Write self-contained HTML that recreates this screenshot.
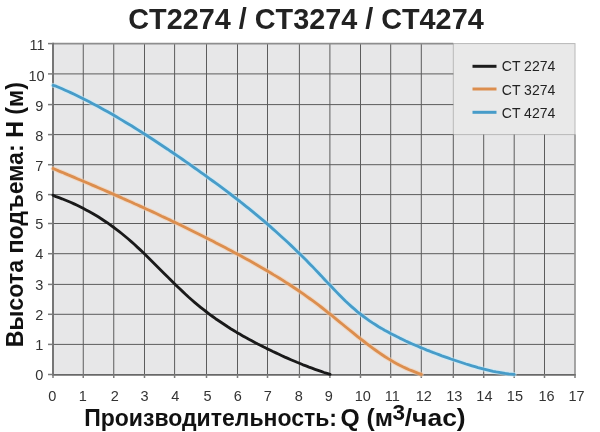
<!DOCTYPE html>
<html><head><meta charset="utf-8"><title>CT2274 / CT3274 / CT4274</title>
<style>
html,body{margin:0;padding:0;background:#fff;width:600px;height:432px;overflow:hidden}
svg{display:block}
text{font-family:"Liberation Sans",Arial,sans-serif}
</style></head><body>
<svg width="600" height="432" viewBox="0 0 600 432">
<rect x="53" y="43.6" width="522.00" height="330.90" fill="#e7e7e8"/>
<rect x="453.3" y="43.6" width="121.70" height="91.00" fill="#e9e9e9" stroke="#b8b8b8" stroke-width="1"/>
<g stroke="#5c5c5c" stroke-width="1" fill="none">
<line x1="83.25" y1="374.50" x2="83.25" y2="43.60"/>
<line x1="113.75" y1="374.50" x2="113.75" y2="43.60"/>
<line x1="144.50" y1="374.50" x2="144.50" y2="43.60"/>
<line x1="174.60" y1="374.50" x2="174.60" y2="43.60"/>
<line x1="206.50" y1="374.50" x2="206.50" y2="43.60"/>
<line x1="237.50" y1="374.50" x2="237.50" y2="43.60"/>
<line x1="267.50" y1="374.50" x2="267.50" y2="43.60"/>
<line x1="299.40" y1="374.50" x2="299.40" y2="43.60"/>
<line x1="329.90" y1="374.50" x2="329.90" y2="43.60"/>
<line x1="360.50" y1="374.50" x2="360.50" y2="43.60"/>
<line x1="390.70" y1="374.50" x2="390.70" y2="43.60"/>
<line x1="421.30" y1="374.50" x2="421.30" y2="43.60"/>
<line x1="453.30" y1="374.50" x2="453.30" y2="134.60"/>
<line x1="483.70" y1="374.50" x2="483.70" y2="134.60"/>
<line x1="514.20" y1="374.50" x2="514.20" y2="134.60"/>
<line x1="544.50" y1="374.50" x2="544.50" y2="134.60"/>
<line x1="53.00" y1="344.40" x2="575.00" y2="344.40"/>
<line x1="53.00" y1="314.30" x2="575.00" y2="314.30"/>
<line x1="53.00" y1="284.40" x2="575.00" y2="284.40"/>
<line x1="53.00" y1="253.70" x2="575.00" y2="253.70"/>
<line x1="53.00" y1="223.50" x2="575.00" y2="223.50"/>
<line x1="53.00" y1="194.60" x2="575.00" y2="194.60"/>
<line x1="53.00" y1="164.70" x2="575.00" y2="164.70"/>
<line x1="53.00" y1="134.60" x2="453.30" y2="134.60"/>
<line x1="53.00" y1="104.60" x2="453.30" y2="104.60"/>
<line x1="53.00" y1="73.90" x2="453.30" y2="73.90"/>
</g>
<g fill="none">
<line x1="53" y1="43.6" x2="453.3" y2="43.6" stroke="#8e8e8e" stroke-width="1.7"/>
<line x1="575" y1="134.6" x2="575" y2="374.5" stroke="#969696" stroke-width="1.7"/>
<line x1="53" y1="42.800000000000004" x2="53" y2="375.5" stroke="#707070" stroke-width="1.9"/>
<line x1="52" y1="374.9" x2="575.8" y2="374.9" stroke="#686868" stroke-width="1.9"/>
</g>
<g stroke="#7c7c7c" stroke-width="1.5" fill="none">
<line x1="53.00" y1="374.50" x2="53.00" y2="378.00"/>
<line x1="83.25" y1="374.50" x2="83.25" y2="378.00"/>
<line x1="113.75" y1="374.50" x2="113.75" y2="378.00"/>
<line x1="144.50" y1="374.50" x2="144.50" y2="378.00"/>
<line x1="174.60" y1="374.50" x2="174.60" y2="378.00"/>
<line x1="206.50" y1="374.50" x2="206.50" y2="378.00"/>
<line x1="237.50" y1="374.50" x2="237.50" y2="378.00"/>
<line x1="267.50" y1="374.50" x2="267.50" y2="378.00"/>
<line x1="299.40" y1="374.50" x2="299.40" y2="378.00"/>
<line x1="329.90" y1="374.50" x2="329.90" y2="378.00"/>
<line x1="360.50" y1="374.50" x2="360.50" y2="378.00"/>
<line x1="390.70" y1="374.50" x2="390.70" y2="378.00"/>
<line x1="421.30" y1="374.50" x2="421.30" y2="378.00"/>
<line x1="453.30" y1="374.50" x2="453.30" y2="378.00"/>
<line x1="483.70" y1="374.50" x2="483.70" y2="378.00"/>
<line x1="514.20" y1="374.50" x2="514.20" y2="378.00"/>
<line x1="544.50" y1="374.50" x2="544.50" y2="378.00"/>
<line x1="575.00" y1="374.50" x2="575.00" y2="378.00"/>
<line x1="48.00" y1="374.50" x2="53.00" y2="374.50"/>
<line x1="48.00" y1="344.40" x2="53.00" y2="344.40"/>
<line x1="48.00" y1="314.30" x2="53.00" y2="314.30"/>
<line x1="48.00" y1="284.40" x2="53.00" y2="284.40"/>
<line x1="48.00" y1="253.70" x2="53.00" y2="253.70"/>
<line x1="48.00" y1="223.50" x2="53.00" y2="223.50"/>
<line x1="48.00" y1="194.60" x2="53.00" y2="194.60"/>
<line x1="48.00" y1="164.70" x2="53.00" y2="164.70"/>
<line x1="48.00" y1="134.60" x2="53.00" y2="134.60"/>
<line x1="48.00" y1="104.60" x2="53.00" y2="104.60"/>
<line x1="48.00" y1="73.90" x2="53.00" y2="73.90"/>
<line x1="48.00" y1="43.60" x2="53.00" y2="43.60"/>
</g>
<g fill="none" stroke-width="5" stroke-linecap="round" stroke-linejoin="round" opacity="0.55">
<path d="M53.1 168.5 L56.1 169.8 L59.1 171.1 L62.2 172.3 L65.2 173.6 L68.2 174.9 L71.2 176.1 L74.2 177.4 L77.2 178.7 L80.3 180.0 L83.3 181.2 L86.3 182.5 L89.3 183.8 L92.3 185.1 L95.4 186.4 L98.4 187.7 L101.4 189.0 L104.4 190.3 L107.4 191.6 L110.4 192.9 L113.5 194.3 L116.5 195.6 L119.5 196.9 L122.5 198.3 L125.5 199.6 L128.6 201.0 L131.6 202.3 L134.6 203.7 L137.6 205.0 L140.6 206.4 L143.6 207.8 L146.7 209.2 L149.7 210.5 L152.7 211.9 L155.7 213.3 L158.7 214.7 L161.7 216.2 L164.8 217.6 L167.8 219.0 L170.8 220.4 L173.8 221.9 L176.8 223.3 L179.9 224.8 L182.9 226.2 L185.9 227.7 L188.9 229.2 L191.9 230.7 L194.9 232.2 L198.0 233.7 L201.0 235.2 L204.0 236.7 L207.0 238.2 L210.0 239.8 L213.1 241.3 L216.1 242.9 L219.1 244.4 L222.1 246.0 L225.1 247.6 L228.1 249.2 L231.2 250.8 L234.2 252.4 L237.2 254.0 L240.2 255.6 L243.2 257.3 L246.3 258.9 L249.3 260.6 L252.3 262.3 L255.3 264.0 L258.3 265.7 L261.3 267.4 L264.4 269.2 L267.4 270.9 L270.4 272.7 L273.4 274.6 L276.4 276.4 L279.5 278.3 L282.5 280.1 L285.5 282.1 L288.5 284.0 L291.5 286.0 L294.5 288.0 L297.6 290.0 L300.6 292.1 L303.6 294.2 L306.6 296.3 L309.6 298.5 L312.7 300.7 L315.7 302.9 L318.7 305.2 L321.7 307.5 L324.7 309.9 L327.7 312.3 L330.8 314.7 L333.8 317.1 L336.8 319.6 L339.8 322.1 L342.8 324.5 L345.8 327.0 L348.9 329.5 L351.9 331.9 L354.9 334.4 L357.9 336.8 L360.9 339.2 L364.0 341.5 L367.0 343.8 L370.0 346.1 L373.0 348.3 L376.0 350.5 L379.0 352.6 L382.1 354.7 L385.1 356.7 L388.1 358.6 L391.1 360.4 L394.1 362.2 L397.2 363.9 L400.2 365.5 L403.2 367.0 L406.2 368.4 L409.2 369.7 L412.2 370.9 L415.3 372.1 L418.3 373.3 L421.3 374.4" stroke="#f6cfae"/>
<path d="M53.1 85.4 L56.1 86.2 L59.1 87.5 L62.1 88.8 L65.2 90.2 L68.2 91.5 L71.2 92.9 L74.2 94.3 L77.2 95.8 L80.2 97.3 L83.2 98.8 L86.3 100.3 L89.3 101.8 L92.3 103.4 L95.3 105.0 L98.3 106.6 L101.3 108.3 L104.3 109.9 L107.3 111.6 L110.4 113.3 L113.4 115.0 L116.4 116.8 L119.4 118.6 L122.4 120.4 L125.4 122.2 L128.4 124.0 L131.5 125.8 L134.5 127.7 L137.5 129.6 L140.5 131.5 L143.5 133.4 L146.5 135.3 L149.5 137.2 L152.6 139.2 L155.6 141.2 L158.6 143.2 L161.6 145.2 L164.6 147.2 L167.6 149.2 L170.6 151.3 L173.6 153.3 L176.7 155.4 L179.7 157.4 L182.7 159.5 L185.7 161.6 L188.7 163.7 L191.7 165.9 L194.7 168.0 L197.8 170.1 L200.8 172.3 L203.8 174.4 L206.8 176.6 L209.8 178.8 L212.8 181.0 L215.8 183.2 L218.9 185.4 L221.9 187.7 L224.9 189.9 L227.9 192.2 L230.9 194.5 L233.9 196.8 L236.9 199.2 L240.0 201.5 L243.0 203.9 L246.0 206.3 L249.0 208.7 L252.0 211.2 L255.0 213.7 L258.0 216.2 L261.0 218.7 L264.1 221.2 L267.1 223.8 L270.1 226.4 L273.1 229.1 L276.1 231.8 L279.1 234.5 L282.1 237.2 L285.2 240.0 L288.2 242.8 L291.2 245.6 L294.2 248.5 L297.2 251.4 L300.2 254.3 L303.2 257.3 L306.3 260.3 L309.3 263.4 L312.3 266.4 L315.3 269.6 L318.3 272.8 L321.3 275.9 L324.3 279.2 L327.3 282.4 L330.4 285.6 L333.4 288.7 L336.4 291.9 L339.4 295.0 L342.4 298.0 L345.4 301.0 L348.4 303.8 L351.5 306.6 L354.5 309.2 L357.5 311.8 L360.5 314.2 L363.5 316.5 L366.5 318.7 L369.5 320.8 L372.6 322.9 L375.6 324.8 L378.6 326.7 L381.6 328.4 L384.6 330.2 L387.6 331.8 L390.6 333.5 L393.7 335.0 L396.7 336.6 L399.7 338.1 L402.7 339.5 L405.7 341.0 L408.7 342.4 L411.7 343.7 L414.7 345.0 L417.8 346.3 L420.8 347.6 L423.8 348.8 L426.8 350.1 L429.8 351.2 L432.8 352.4 L435.8 353.5 L438.9 354.7 L441.9 355.8 L444.9 356.8 L447.9 357.9 L450.9 359.0 L453.9 360.0 L456.9 361.0 L460.0 362.0 L463.0 363.0 L466.0 364.0 L469.0 364.9 L472.0 365.8 L475.0 366.7 L478.0 367.6 L481.0 368.4 L484.1 369.2 L487.1 369.9 L490.1 370.6 L493.1 371.3 L496.1 371.9 L499.1 372.4 L502.1 372.9 L505.2 373.4 L508.2 373.8 L511.2 374.1 L514.2 374.4" stroke="#c4ecfb"/>
</g>
<g fill="none" stroke-width="2.85" stroke-linecap="round" stroke-linejoin="round">
<path d="M53.0 195.2 L56.0 196.7 L59.0 197.7 L62.0 198.8 L65.0 200.0 L68.1 201.3 L71.1 202.5 L74.1 203.9 L77.1 205.3 L80.1 206.8 L83.1 208.3 L86.1 209.9 L89.1 211.5 L92.2 213.2 L95.2 215.0 L98.2 216.8 L101.2 218.7 L104.2 220.7 L107.2 222.7 L110.2 224.8 L113.2 227.0 L116.3 229.3 L119.3 231.6 L122.3 234.0 L125.3 236.5 L128.3 239.0 L131.3 241.6 L134.3 244.3 L137.3 247.1 L140.3 249.9 L143.4 252.8 L146.4 255.7 L149.4 258.7 L152.4 261.7 L155.4 264.7 L158.4 267.7 L161.4 270.7 L164.4 273.7 L167.5 276.7 L170.5 279.7 L173.5 282.7 L176.5 285.7 L179.5 288.6 L182.5 291.4 L185.5 294.2 L188.5 297.0 L191.6 299.7 L194.6 302.3 L197.6 304.8 L200.6 307.3 L203.6 309.7 L206.6 312.0 L209.6 314.3 L212.6 316.5 L215.6 318.7 L218.7 320.8 L221.7 322.8 L224.7 324.8 L227.7 326.8 L230.7 328.7 L233.7 330.5 L236.7 332.4 L239.7 334.1 L242.8 335.9 L245.8 337.6 L248.8 339.2 L251.8 340.8 L254.8 342.4 L257.8 344.0 L260.8 345.5 L263.8 347.1 L266.8 348.6 L269.9 350.0 L272.9 351.5 L275.9 352.9 L278.9 354.3 L281.9 355.7 L284.9 357.1 L287.9 358.4 L290.9 359.7 L294.0 361.0 L297.0 362.3 L300.0 363.5 L303.0 364.8 L306.0 365.9 L309.0 367.1 L312.0 368.2 L315.0 369.3 L318.1 370.4 L321.1 371.4 L324.1 372.5 L327.1 373.4 L330.1 374.3" stroke="#1a1a1a"/>
<path d="M53.1 168.5 L56.1 169.8 L59.1 171.1 L62.2 172.3 L65.2 173.6 L68.2 174.9 L71.2 176.1 L74.2 177.4 L77.2 178.7 L80.3 180.0 L83.3 181.2 L86.3 182.5 L89.3 183.8 L92.3 185.1 L95.4 186.4 L98.4 187.7 L101.4 189.0 L104.4 190.3 L107.4 191.6 L110.4 192.9 L113.5 194.3 L116.5 195.6 L119.5 196.9 L122.5 198.3 L125.5 199.6 L128.6 201.0 L131.6 202.3 L134.6 203.7 L137.6 205.0 L140.6 206.4 L143.6 207.8 L146.7 209.2 L149.7 210.5 L152.7 211.9 L155.7 213.3 L158.7 214.7 L161.7 216.2 L164.8 217.6 L167.8 219.0 L170.8 220.4 L173.8 221.9 L176.8 223.3 L179.9 224.8 L182.9 226.2 L185.9 227.7 L188.9 229.2 L191.9 230.7 L194.9 232.2 L198.0 233.7 L201.0 235.2 L204.0 236.7 L207.0 238.2 L210.0 239.8 L213.1 241.3 L216.1 242.9 L219.1 244.4 L222.1 246.0 L225.1 247.6 L228.1 249.2 L231.2 250.8 L234.2 252.4 L237.2 254.0 L240.2 255.6 L243.2 257.3 L246.3 258.9 L249.3 260.6 L252.3 262.3 L255.3 264.0 L258.3 265.7 L261.3 267.4 L264.4 269.2 L267.4 270.9 L270.4 272.7 L273.4 274.6 L276.4 276.4 L279.5 278.3 L282.5 280.1 L285.5 282.1 L288.5 284.0 L291.5 286.0 L294.5 288.0 L297.6 290.0 L300.6 292.1 L303.6 294.2 L306.6 296.3 L309.6 298.5 L312.7 300.7 L315.7 302.9 L318.7 305.2 L321.7 307.5 L324.7 309.9 L327.7 312.3 L330.8 314.7 L333.8 317.1 L336.8 319.6 L339.8 322.1 L342.8 324.5 L345.8 327.0 L348.9 329.5 L351.9 331.9 L354.9 334.4 L357.9 336.8 L360.9 339.2 L364.0 341.5 L367.0 343.8 L370.0 346.1 L373.0 348.3 L376.0 350.5 L379.0 352.6 L382.1 354.7 L385.1 356.7 L388.1 358.6 L391.1 360.4 L394.1 362.2 L397.2 363.9 L400.2 365.5 L403.2 367.0 L406.2 368.4 L409.2 369.7 L412.2 370.9 L415.3 372.1 L418.3 373.3 L421.3 374.4" stroke="#dc8e4e"/>
<path d="M53.1 85.4 L56.1 86.2 L59.1 87.5 L62.1 88.8 L65.2 90.2 L68.2 91.5 L71.2 92.9 L74.2 94.3 L77.2 95.8 L80.2 97.3 L83.2 98.8 L86.3 100.3 L89.3 101.8 L92.3 103.4 L95.3 105.0 L98.3 106.6 L101.3 108.3 L104.3 109.9 L107.3 111.6 L110.4 113.3 L113.4 115.0 L116.4 116.8 L119.4 118.6 L122.4 120.4 L125.4 122.2 L128.4 124.0 L131.5 125.8 L134.5 127.7 L137.5 129.6 L140.5 131.5 L143.5 133.4 L146.5 135.3 L149.5 137.2 L152.6 139.2 L155.6 141.2 L158.6 143.2 L161.6 145.2 L164.6 147.2 L167.6 149.2 L170.6 151.3 L173.6 153.3 L176.7 155.4 L179.7 157.4 L182.7 159.5 L185.7 161.6 L188.7 163.7 L191.7 165.9 L194.7 168.0 L197.8 170.1 L200.8 172.3 L203.8 174.4 L206.8 176.6 L209.8 178.8 L212.8 181.0 L215.8 183.2 L218.9 185.4 L221.9 187.7 L224.9 189.9 L227.9 192.2 L230.9 194.5 L233.9 196.8 L236.9 199.2 L240.0 201.5 L243.0 203.9 L246.0 206.3 L249.0 208.7 L252.0 211.2 L255.0 213.7 L258.0 216.2 L261.0 218.7 L264.1 221.2 L267.1 223.8 L270.1 226.4 L273.1 229.1 L276.1 231.8 L279.1 234.5 L282.1 237.2 L285.2 240.0 L288.2 242.8 L291.2 245.6 L294.2 248.5 L297.2 251.4 L300.2 254.3 L303.2 257.3 L306.3 260.3 L309.3 263.4 L312.3 266.4 L315.3 269.6 L318.3 272.8 L321.3 275.9 L324.3 279.2 L327.3 282.4 L330.4 285.6 L333.4 288.7 L336.4 291.9 L339.4 295.0 L342.4 298.0 L345.4 301.0 L348.4 303.8 L351.5 306.6 L354.5 309.2 L357.5 311.8 L360.5 314.2 L363.5 316.5 L366.5 318.7 L369.5 320.8 L372.6 322.9 L375.6 324.8 L378.6 326.7 L381.6 328.4 L384.6 330.2 L387.6 331.8 L390.6 333.5 L393.7 335.0 L396.7 336.6 L399.7 338.1 L402.7 339.5 L405.7 341.0 L408.7 342.4 L411.7 343.7 L414.7 345.0 L417.8 346.3 L420.8 347.6 L423.8 348.8 L426.8 350.1 L429.8 351.2 L432.8 352.4 L435.8 353.5 L438.9 354.7 L441.9 355.8 L444.9 356.8 L447.9 357.9 L450.9 359.0 L453.9 360.0 L456.9 361.0 L460.0 362.0 L463.0 363.0 L466.0 364.0 L469.0 364.9 L472.0 365.8 L475.0 366.7 L478.0 367.6 L481.0 368.4 L484.1 369.2 L487.1 369.9 L490.1 370.6 L493.1 371.3 L496.1 371.9 L499.1 372.4 L502.1 372.9 L505.2 373.4 L508.2 373.8 L511.2 374.1 L514.2 374.4" stroke="#479cc9"/>
</g>
<g stroke-width="3">
<line x1="472.5" y1="66.3" x2="496.5" y2="66.3" stroke="#1c1c1c"/>
<line x1="472.5" y1="89" x2="496.5" y2="89" stroke="#dc8e4e"/>
<line x1="472.5" y1="112.3" x2="496.5" y2="112.3" stroke="#479cc9"/>
</g>
<g font-size="14" fill="#222">
<text x="501.8" y="71.4">CT 2274</text>
<text x="501.8" y="94.8">CT 3274</text>
<text x="501.8" y="117.5">CT 4274</text>
</g>
<g font-size="14.5" fill="#333" text-anchor="middle">
<text x="52.20" y="400.5">0</text>
<text x="82.90" y="400.5">1</text>
<text x="114.90" y="400.5">2</text>
<text x="144.60" y="400.5">3</text>
<text x="175.40" y="400.5">4</text>
<text x="207.50" y="400.5">5</text>
<text x="237.90" y="400.5">6</text>
<text x="267.80" y="400.5">7</text>
<text x="298.70" y="400.5">8</text>
<text x="328.90" y="400.5">9</text>
<text x="362.80" y="400.5">10</text>
<text x="392.20" y="400.5">11</text>
<text x="423.80" y="400.5">12</text>
<text x="454.20" y="400.5">13</text>
<text x="484.40" y="400.5">14</text>
<text x="514.90" y="400.5">15</text>
<text x="546.50" y="400.5">16</text>
<text x="576.60" y="400.5">17</text>
</g>
<g font-size="14.5" fill="#333" text-anchor="end">
<text x="43.4" y="379.50">0</text>
<text x="43.4" y="349.56">1</text>
<text x="43.4" y="319.63">2</text>
<text x="43.4" y="289.89">3</text>
<text x="43.4" y="259.35">4</text>
<text x="43.4" y="229.32">5</text>
<text x="43.4" y="200.58">6</text>
<text x="43.4" y="170.85">7</text>
<text x="43.4" y="140.91">8</text>
<text x="43.4" y="111.07">9</text>
<text x="44.6" y="80.54">10</text>
<text x="44.6" y="50.40">11</text>
</g>
<text x="306" y="28.7" font-size="28.8" font-weight="bold" fill="#222" text-anchor="middle">CT2274 / CT3274 / CT4274</text>
<g font-size="23" font-weight="bold" fill="#111">
<text x="84.2" y="425.6">Производительность:</text>
<text x="340.5" y="425.6" textLength="52.5" lengthAdjust="spacingAndGlyphs">Q (м</text>
<text x="392.4" y="420" font-size="22.5">3</text>
<text x="404.7" y="425.6" textLength="61" lengthAdjust="spacingAndGlyphs">/час)</text>
</g>
<text transform="translate(22.7,347.2) rotate(-90)" x="0" y="0" font-size="23.5" font-weight="bold" fill="#111" textLength="265.1" lengthAdjust="spacingAndGlyphs">Высота подъема: H (м)</text>
</svg>
</body></html>
